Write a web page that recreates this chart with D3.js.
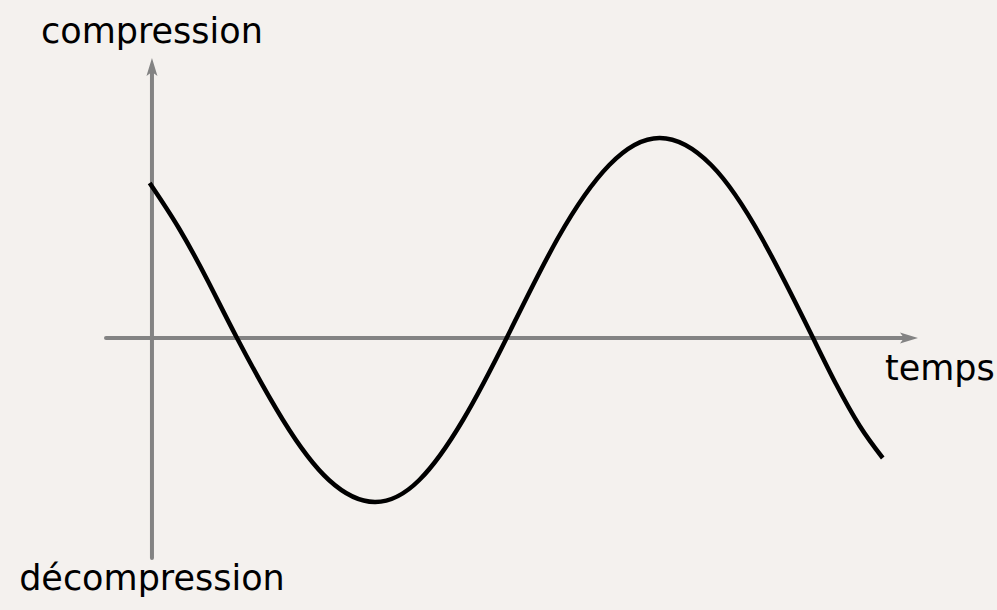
<!DOCTYPE html>
<html>
<head>
<meta charset="utf-8">
<script src="https://cdn.jsdelivr.net/npm/d3@7"></script>
<style>
  html, body { margin: 0; padding: 0; background: #f4f1ee; }
  svg { display: block; }
  text { font-family: "DejaVu Sans", sans-serif; font-size: 35px; fill: #000; }
</style>
</head>
<body>
<svg id="chart" width="997" height="610"></svg>
<script>
// wave: time (arbitrary units) vs pressure
const times = [-0.03, 0.35, 0.73, 1.11, 1.71, 2.31, 2.91, 3.49, 4.06, 4.63,
  5.30, 5.97, 6.63, 7.30, 7.96, 8.63, 8.93, 9.24, 9.54];
const pressures = [0.775, 0.55, 0.285, 0, -0.41, -0.71, -0.82, -0.71, -0.41, 0,
  0.50, 0.865, 1.0, 0.865, 0.50, 0, -0.23, -0.44, -0.60];

const timeExtent = [-0.6, 10];
const pressureExtent = [-1.1, 1.4];

const labelTop = 'compression';
const labelBottom = 'décompression';
const labelTime = 'temps';

function drawChart() {
  const svg = d3.select('#chart');

  const x = d3.scaleLinear()
    .domain(timeExtent)
    .range([106, 918]);

  const y = d3.scaleLinear()
    .domain(pressureExtent)
    .range([558, 58]);

  const axisColor = '#838383';
  const head = 18;
  const arrow = `M0,0 L${-head},-5.5 L${-head + 4},0 L${-head},5.5 Z`;

  // horizontal axis (time)
  svg.append('line')
    .attr('x1', x(timeExtent[0]))
    .attr('x2', x(timeExtent[1]) - head + 4)
    .attr('y1', y(0))
    .attr('y2', y(0))
    .attr('stroke', axisColor)
    .attr('stroke-width', 4)
    .attr('stroke-linecap', 'round');

  svg.append('path')
    .attr('d', arrow)
    .attr('transform', `translate(${x(timeExtent[1])}, ${y(0)})`)
    .attr('fill', axisColor);

  // vertical axis (pressure)
  svg.append('line')
    .attr('x1', x(0))
    .attr('x2', x(0))
    .attr('y1', y(pressureExtent[0]))
    .attr('y2', y(pressureExtent[1]) + head - 4)
    .attr('stroke', axisColor)
    .attr('stroke-width', 4)
    .attr('stroke-linecap', 'round');

  svg.append('path')
    .attr('d', arrow)
    .attr('transform', `translate(${x(0)}, ${y(pressureExtent[1])}) rotate(-90)`)
    .attr('fill', axisColor);

  // the wave
  const line = d3.line()
    .x((d, i) => x(times[i]))
    .y(d => y(d))
    .curve(d3.curveNatural);

  svg.append('path')
    .attr('d', line(pressures))
    .attr('fill', 'none')
    .attr('stroke', '#000')
    .attr('stroke-width', 4.5);

  // labels
  svg.append('text')
    .attr('x', x(0))
    .attr('y', 43)
    .attr('text-anchor', 'middle')
    .text(labelTop);

  svg.append('text')
    .attr('x', x(0))
    .attr('y', 590)
    .attr('text-anchor', 'middle')
    .text(labelBottom);

  svg.append('text')
    .attr('x', 885)
    .attr('y', 380)
    .text(labelTime);
}

drawChart();
</script>
</body>
</html>
